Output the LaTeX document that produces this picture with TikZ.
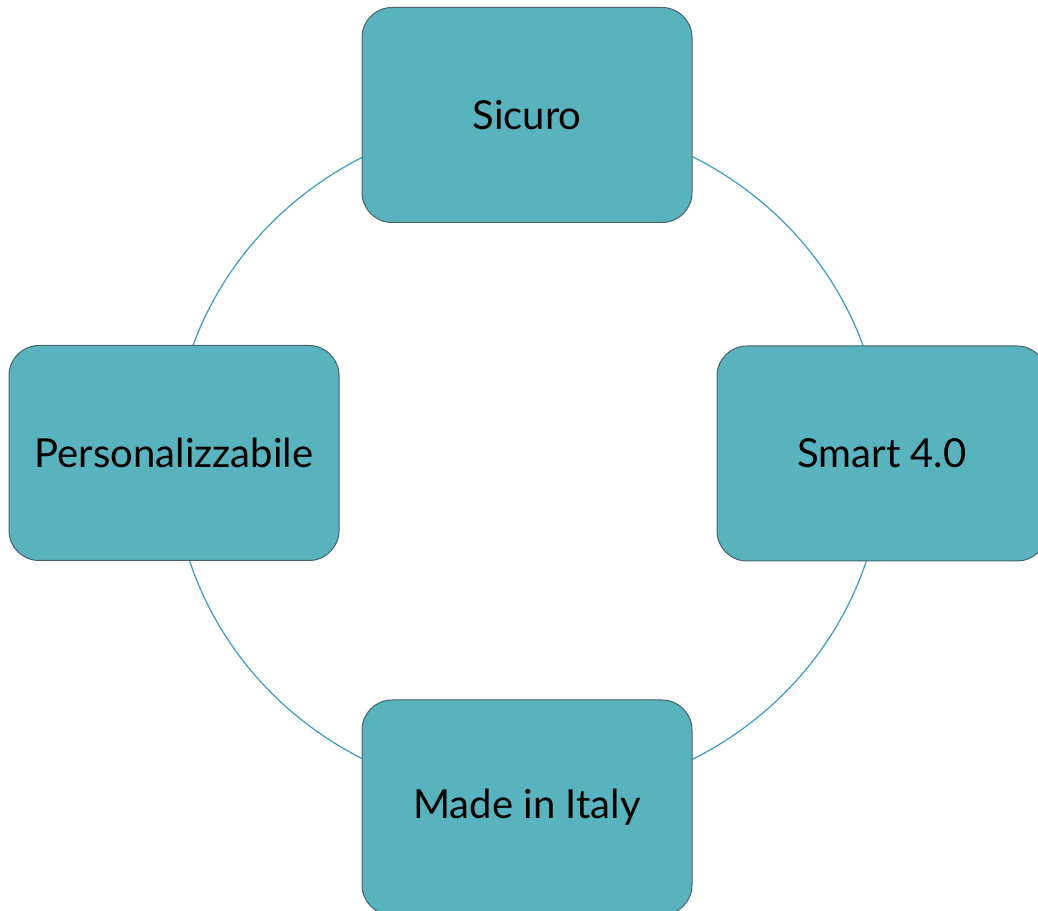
\documentclass[tikz,border=0pt]{standalone}
\usepackage{fontspec}
\setmainfont{Lato}
\usetikzlibrary{backgrounds}
\definecolor{boxfill}{HTML}{58B3BF}
\definecolor{boxline}{HTML}{45636A}
\definecolor{arcline}{HTML}{3D9AC6}
\begin{document}
\begin{tikzpicture}[x=1pt,y=1pt,
  cyclebox/.style={draw=boxline, line width=1pt, fill=boxfill, rounded corners=30pt,
    minimum width=330pt, minimum height=215pt, inner sep=0pt,
    font=\fontsize{40}{48}\selectfont, text=black},
  cyclearc/.style={draw=arcline, line width=1.2pt}]
\useasboundingbox (0,0) rectangle (1038,910);
\node[cyclebox] (top) at (527,795) {Sicuro};
\node[cyclebox] (left) at (174,457) {Personalizzabile};
\node[cyclebox] (right) at (882,456.5) {Smart 4.0};
\node[cyclebox] (bottom) at (527,102.5) {Made in Italy};
\coordinate (c) at (528,452);
\begin{scope}[on background layer]
\draw[cyclearc] (c) ++(117:355 and 340) arc[start angle=117, end angle=163, x radius=355, y radius=340];
\draw[cyclearc] (c) ++(197:355 and 340) arc[start angle=197, end angle=243, x radius=355, y radius=340];
\draw[cyclearc] (c) ++(297:355 and 340) arc[start angle=297, end angle=343, x radius=355, y radius=340];
\draw[cyclearc] (c) ++(17:355 and 340) arc[start angle=17, end angle=63, x radius=355, y radius=340];
\end{scope}
\end{tikzpicture}
\end{document}
